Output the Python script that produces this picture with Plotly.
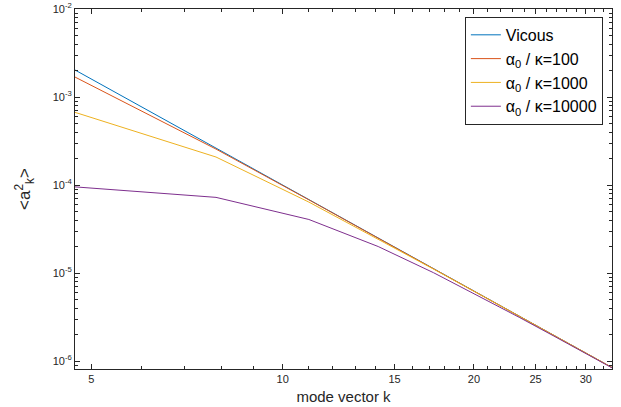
import plotly.graph_objects as go

# mode vector k
k = [4.712, 7.854, 10.996, 14.137, 17.279, 20.420, 23.562, 26.704, 29.845, 32.987]
viscous = [2.028e-3, 2.628e-4, 6.840e-5, 2.503e-5, 1.122e-5, 5.751e-6, 3.245e-6, 1.967e-6, 1.260e-6, 8.446e-7]
ratio_100 = [1.686e-3, 2.561e-4, 6.793e-5, 2.497e-5, 1.1206e-5, 5.748e-6, 3.2435e-6, 1.966e-6, 1.2603e-6, 8.445e-7]
ratio_1000 = [6.698e-4, 2.081e-4, 6.402e-5, 2.442e-5, 1.1094e-5, 5.719e-6, 3.234e-6, 1.9627e-6, 1.2589e-6, 8.439e-7]
ratio_10000 = [9.530e-5, 7.244e-5, 4.062e-5, 2.002e-5, 1.0087e-5, 5.439e-6, 3.143e-6, 1.9286e-6, 1.2448e-6, 8.375e-7]

series_names = ["Vicous", "α<sub>0</sub> / κ=100", "α<sub>0</sub> / κ=1000", "α<sub>0</sub> / κ=10000"]
series_vals = [viscous, ratio_100, ratio_1000, ratio_10000]
colors = ["#0072BD", "#D95319", "#EDB120", "#7E2F8E"]

x_ticks = [5, 10, 15, 20, 25, 30]
x_minor = [6, 7, 8, 9, 11, 12, 13, 14, 16, 17, 18, 19, 21, 22, 23, 24, 26, 27, 28, 29, 31, 32]
y_ticks = [1e-6, 1e-5, 1e-4, 1e-3, 1e-2]
y_ticktext = ["10<sup>-6</sup>", "10<sup>-5</sup>", "10<sup>-4</sup>", "10<sup>-3</sup>", "10<sup>-2</sup>"]
y_minor = [m * 10.0 ** e for e in range(-7, -2) for m in range(2, 10)]

fig = go.Figure()
for name, vals, c in zip(series_names, series_vals, colors):
    fig.add_trace(go.Scatter(x=k, y=vals, mode="lines", name=name,
                             line=dict(color=c, width=1)))

axcol = "#262626"
fig.update_layout(
    width=621, height=407,
    margin=dict(l=75, r=9, t=9, b=38),
    paper_bgcolor="white", plot_bgcolor="white",
    font=dict(family="Liberation Sans, Arial, sans-serif", color=axcol),
    showlegend=True,
    legend=dict(x=0.983, y=0.978, xanchor="right", yanchor="top",
                bgcolor="white", bordercolor=axcol, borderwidth=1,
                font=dict(size=16, color="black"), tracegroupgap=0,
                itemwidth=30),
)
fig.update_xaxes(
    type="log", range=[0.6732, 1.5183], automargin=False,
    tickmode="array", tickvals=x_ticks, ticktext=[str(v) for v in x_ticks],
    ticks="inside", ticklen=5, tickcolor=axcol, tickwidth=1,
    showline=True, linecolor=axcol, linewidth=1, mirror="allticks",
    showgrid=False, zeroline=False,
    tickfont=dict(size=11, color=axcol),
    minor=dict(tickmode="array", tickvals=x_minor, ticks="inside", ticklen=3,
               tickcolor=axcol, showgrid=False),
    title=dict(text="mode vector k", font=dict(size=15, color=axcol), standoff=7),
)
fig.update_yaxes(
    type="log", range=[-6.09, -2.0], automargin=False,
    tickmode="array", tickvals=y_ticks, ticktext=y_ticktext,
    ticks="inside", ticklen=5, tickcolor=axcol, tickwidth=1,
    showline=True, linecolor=axcol, linewidth=1, mirror="allticks",
    showgrid=False, zeroline=False,
    tickfont=dict(size=11, color=axcol),
    minor=dict(tickmode="array", tickvals=y_minor, ticks="inside", ticklen=3,
               tickcolor=axcol, showgrid=False),
    title=dict(text="&lt;a<sup>2</sup><sub>k</sub>&gt;", font=dict(size=17, color=axcol), standoff=17),
)
fig.write_html("out.html", config={"displayModeBar": False},
               post_script="document.body.style.margin='0';")
